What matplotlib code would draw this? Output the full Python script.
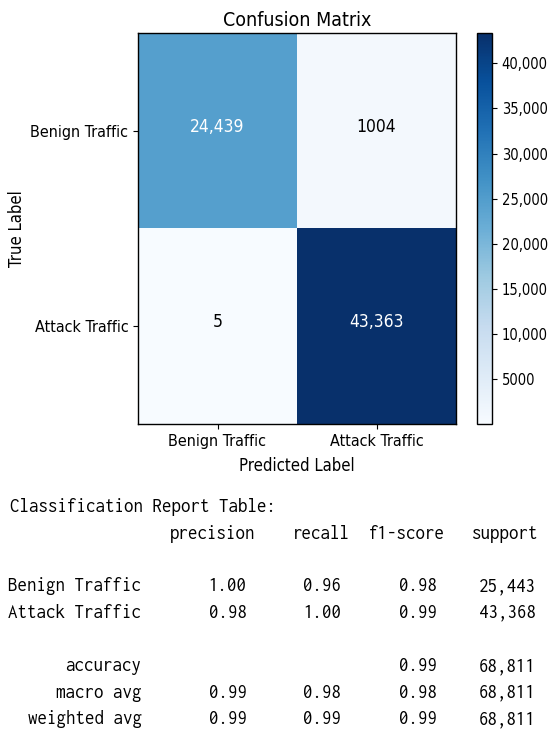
import os
import matplotlib
matplotlib.use("Agg")
import matplotlib.pyplot as plt
from matplotlib import font_manager as fm
import numpy as np

# ---------------- data ----------------
classes = ["Benign Traffic", "Attack Traffic"]
cm_row_benign = [24439, 1004]
cm_row_attack = [5, 43363]
cell_labels = [["24,439", "1004"], ["5", "43,363"]]
cbar_ticks = [5000, 10000, 15000, 20000, 25000, 30000, 35000, 40000]
cbar_ticklabels = ["5000", "10,000", "15,000", "20,000", "25,000", "30,000", "35,000", "40,000"]

report_title = "Classification Report Table:"
report_headers = ["precision", "recall", "f1-score", "support"]
report_names = ["Benign Traffic", "Attack Traffic", "accuracy", "macro avg", "weighted avg"]
report_precision = ["1.00", "0.98", "", "0.99", "0.99"]
report_recall = ["0.96", "1.00", "", "0.98", "0.99"]
report_f1 = ["0.98", "0.99", "0.99", "0.98", "0.99"]
report_support = ["25,443", "43,368", "68,811", "68,811", "68,811"]

# ---------------- style ----------------
plt.rcParams["font.family"] = ["DejaVu Sans"]
plt.rcParams["font.stretch"] = "condensed"

# pick a semi-condensed monospace face for the report (Consolas-like)
mono_prop = None
mono_fs = 14
for f in fm.fontManager.ttflist:
    base = os.path.basename(f.fname).lower().replace(" ", "").replace("_", "").replace("-", "")
    if f.name == "Inconsolata" and "semicondensed" in base and base.endswith("regular.ttf") \
            and f.style == "normal":
        mono_prop = fm.FontProperties(fname=f.fname)
        mono_fs = 15.1
        break
if mono_prop is None:
    mono_prop = fm.FontProperties(family="Inconsolata", stretch="normal")
    mono_fs = 14

W, H = 550, 732
fig = plt.figure(figsize=(W / 100, H / 100), dpi=100)
fig.patch.set_facecolor("white")

def fx(px):
    return px / W

def fy(py):
    return 1 - py / H

ax_l, ax_r, ax_t, ax_b = 138, 456, 33, 424
ax = fig.add_axes([fx(ax_l), fy(ax_b), fx(ax_r - ax_l), (ax_b - ax_t) / H])
cax = fig.add_axes([fx(477), fy(ax_b), fx(15), (ax_b - ax_t) / H])

cm = np.array([cm_row_benign, cm_row_attack])
im = ax.imshow(cm, cmap="Blues", aspect="auto", interpolation="nearest")

thresh = cm.max() / 2.0
for i in range(cm.shape[0]):
    for j in range(cm.shape[1]):
        ax.text(j, i - 0.02, cell_labels[i][j], ha="center", va="center",
                fontsize=12.5, color="white" if cm[i, j] > thresh else "black")

ax.set_xticks(range(len(classes)))
ax.set_xticklabels(classes, fontsize=11.5)
ax.set_yticks(range(len(classes)))
ax.set_yticklabels(classes, fontsize=11.5)
ax.set_xlabel("Predicted Label", fontsize=12, labelpad=6)
ax.set_ylabel("True Label", fontsize=12, labelpad=3)
ax.set_title("Confusion Matrix", fontsize=14, pad=5)
for s in ax.spines.values():
    s.set_linewidth(1.0)

cb = fig.colorbar(im, cax=cax)
cb.set_ticks(cbar_ticks)
cb.set_ticklabels(cbar_ticklabels)
cb.ax.tick_params(labelsize=10.5)
cb.outline.set_linewidth(1.0)

# ---------------- classification report ----------------
baselines_header = [512, 539]
row_baselines = [591, 617.5, 671, 697.5, 724]

def mtext(x, y, s, ha):
    fig.text(fx(x), fy(y), s, fontproperties=mono_prop, fontsize=mono_fs,
             va="baseline", ha=ha)

mtext(10, baselines_header[0], report_title, "left")

header_right = [255.5, 349.5, 445, 538.5]
for h, xr in zip(report_headers, header_right):
    mtext(xr, baselines_header[1], h, "right")

name_right = 141.5
value_right = [246.5, 341.5, 437, 535.5]
for k, name in enumerate(report_names):
    yb = row_baselines[k]
    mtext(name_right, yb, name, "right")
    vals = [report_precision[k], report_recall[k], report_f1[k], report_support[k]]
    for v, xr in zip(vals, value_right):
        if v:
            mtext(xr, yb, v, "right")

fig.savefig("out.png", dpi=100, facecolor="white")
